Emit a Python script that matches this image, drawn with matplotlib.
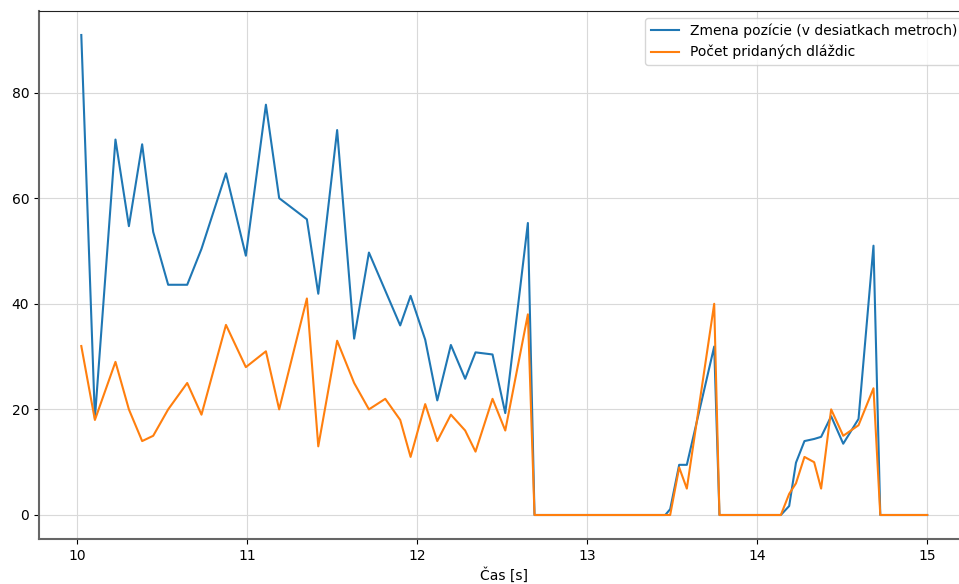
import matplotlib
matplotlib.use("Agg")
import matplotlib.pyplot as plt

# casy merani (s)
cas = [10.024, 10.104, 10.225, 10.304, 10.382, 10.447, 10.535, 10.647, 10.731, 10.875,
       10.992, 11.110, 11.188, 11.351, 11.418, 11.529, 11.629, 11.716, 11.812, 11.900,
       11.961, 12.047, 12.118, 12.198, 12.282, 12.343, 12.443, 12.518, 12.651, 12.690,
       13.459, 13.488, 13.541, 13.586, 13.747, 13.778,
       14.139, 14.188, 14.228, 14.278, 14.335, 14.376, 14.435, 14.506, 14.596, 14.684,
       14.724, 15.0]

zmena_pozicie = [90.9, 18.3, 71.1, 54.7, 70.2, 53.6, 43.6, 43.6, 50.4, 64.7,
                 49.1, 77.7, 60.0, 56.0, 41.9, 72.9, 33.4, 49.7, 42.5, 35.9,
                 41.5, 33.2, 21.7, 32.2, 25.8, 30.8, 30.4, 19.3, 55.3, 0,
                 0, 1.1, 9.5, 9.5, 31.9, 0,
                 0, 1.7, 9.9, 14.0, 14.4, 14.8, 18.7, 13.5, 18.2, 51.0,
                 0, 0]

pocet_dlazdic = [32, 18, 29, 20, 14, 15, 20, 25, 19, 36,
                 28, 31, 20, 41, 13, 33, 25, 20, 22, 18,
                 11, 21, 14, 19, 16, 12, 22, 16, 38, 0,
                 0, 0, 9, 5, 40, 0,
                 0, 4, 6, 11, 10, 5, 20, 15, 17, 24,
                 0, 0]

fig = plt.figure(figsize=(9.59, 5.84), dpi=100)
ax = fig.add_axes([39/959, 45/584, 930.5/959, 528/584])

ax.plot(cas, zmena_pozicie, color="#1f77b4", linewidth=1.5, label="Zmena pozície (v desiatkach metroch)")
ax.plot(cas, pocet_dlazdic, color="#ff7f0e", linewidth=1.5, label="Počet pridaných dláždic")

ax.grid(True, color="#d9d9d9", linewidth=0.8)
ax.set_axisbelow(True)
ax.set_xticks([10, 11, 12, 13, 14, 15])
ax.set_yticks([0, 20, 40, 60, 80])
ax.set_xlabel("Čas [s]", labelpad=3)

for s in ["left", "bottom"]:
    ax.spines[s].set_color("#666666")
    ax.spines[s].set_linewidth(1.5)
ax.spines["top"].set_color("#222222")
ax.spines["right"].set_visible(False)

ax.legend(loc="upper right", fontsize=10, framealpha=0.8)

fig.savefig("out.png", dpi=100)
